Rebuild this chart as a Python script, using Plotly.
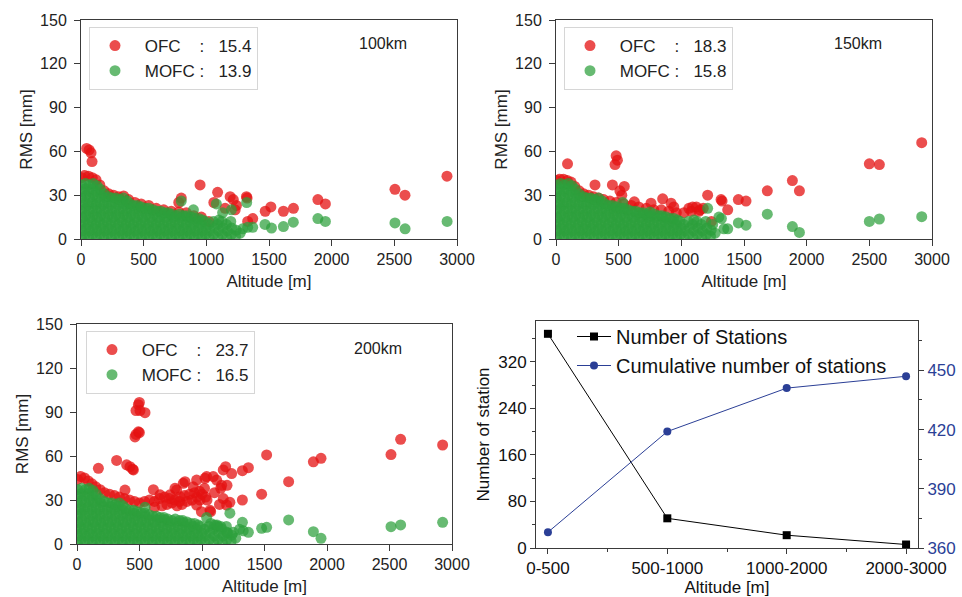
import plotly.graph_objects as go

# ---------------- data ----------------
# Shared low-altitude MOFC cluster (altitude [m], RMS [mm]) - one line per altitude band
cluster_alt = [
    4, 8, 2, 10, 6, 12, 3, 9, 5,
    33, 38, 30, 40, 36, 32, 39, 34, 37,
    63, 68, 60, 70, 66, 62, 69, 64, 67,
    93, 98, 90, 100, 96, 92, 99, 94, 97,
    123, 128, 120, 130, 126, 122, 129, 124, 127,
    153, 158, 150, 160, 156, 152, 159, 154,
    183, 188, 180, 190, 186, 182, 189, 184,
    213, 218, 210, 220, 216, 212, 219,
    243, 248, 240, 250, 246, 242, 249,
    273, 278, 270, 280, 276, 272, 279,
    303, 308, 300, 310, 306, 302, 309,
    333, 338, 330, 340, 336, 332, 339,
    363, 368, 360, 370, 366, 362, 369,
    393, 398, 390, 400, 396, 392,
    423, 428, 420, 430, 426, 422,
    453, 458, 450, 460, 456, 452,
    483, 488, 480, 490, 486, 482,
    513, 518, 510, 520, 516,
    543, 548, 540, 550, 546, 542,
    573, 578, 570, 580, 576,
    603, 608, 600, 610, 606,
    633, 638, 630, 640, 636,
    663, 668, 660, 670, 666,
    693, 698, 690, 700, 696,
    723, 728, 720, 730, 726,
    753, 758, 750, 760,
    783, 788, 780, 790, 786,
    813, 818, 810, 820,
    843, 848, 840, 850, 846,
    873, 878, 870, 880,
    903, 908, 900, 910,
    933, 938, 930, 940,
    963, 968, 960, 970,
    993, 998, 990,
    1023, 1028, 1020,
    1058, 1063, 1055,
    1093, 1098, 1090, 1100,
    1128, 1133, 1125,
    1163, 1168, 1160,
    1198, 1203, 1195,
    1233, 1238,
    1270,
]
cluster_mofc = [
    1, 5.5, 10, 14.5, 19, 23.5, 28, 32.5, 37,
    3, 7.5, 12, 16.5, 21, 25.5, 30, 34.5, 38,
    1, 5.5, 10, 14.5, 19, 23.5, 28, 32.5, 37,
    3, 7.5, 12, 16.5, 21, 25.5, 30, 34.5, 38,
    1, 5.5, 10, 14.5, 19, 23.5, 28, 32.5, 36.5,
    3, 7.5, 12, 16.5, 21, 25.5, 30, 34,
    1, 5.5, 10, 14.5, 19, 23.5, 28, 31,
    3, 7.5, 12, 16.5, 21, 25.5, 29,
    1, 5.5, 10, 14.5, 19, 23.5, 28,
    3, 7.5, 12, 16.5, 21, 25.5, 28,
    1, 5.5, 10, 14.5, 19, 23.5, 27,
    3, 7.5, 12, 16.5, 21, 25.5, 28,
    1, 5.5, 10, 14.5, 19, 23.5, 26,
    3, 7.5, 12, 16.5, 21, 24,
    1, 5.5, 10, 14.5, 19, 23,
    3, 7.5, 12, 16.5, 21, 23,
    1, 5.5, 10, 14.5, 19, 22,
    3, 7.5, 12, 16.5, 21,
    1, 5.5, 10, 14.5, 19, 21,
    3, 7.5, 12, 16.5, 20,
    1, 5.5, 10, 14.5, 19,
    3, 7.5, 12, 16.5, 19,
    1, 5.5, 10, 14.5, 18,
    3, 7.5, 12, 16.5, 18,
    1, 5.5, 10, 14.5, 17,
    3, 7.5, 12, 16,
    1, 5.5, 10, 14.5, 17,
    3, 7.5, 12, 16,
    1, 5.5, 10, 14.5, 16,
    3, 7.5, 12, 15,
    1, 5.5, 10, 14,
    3, 7.5, 12, 14,
    1, 5.5, 10, 13,
    3, 7.5, 12,
    1, 5.5, 10,
    3, 7.5, 12,
    1, 5.5, 10, 13,
    3, 7.5, 12,
    1, 5.5, 10,
    3, 7.5, 12,
    2, 6,
    4,
]

# 100 km
ofc_alt_100 = [5, 30, 60, 90, 120, 150, 185, 220, 260, 300, 340, 380, 430, 480, 540, 600,
               660, 720, 780, 840, 900, 960, 1020,
               45, 65, 80, 88, 780, 800, 950, 1060, 1090, 1150, 1190, 1215, 1230, 1240,
               1320, 1325, 1330, 1370, 1470, 1515, 1615, 1695, 1890, 1950, 2505, 2585, 2920]
ofc_rms_100 = [42, 43.5, 43, 42, 40.5, 37, 33, 31, 30, 29, 29.5, 27, 25, 24, 23, 21,
               20, 19, 18.5, 18, 16, 15, 12,
               62, 61, 59, 53, 25, 28, 37, 25, 32, 21, 29, 27, 20, 23,
               29, 28, 12, 14, 19, 22, 19, 21, 27, 24, 34, 30, 43]
mofc_alt_100 = [800, 897, 1080, 1130, 1200, 1322, 1330, 1290, 1370, 1468, 1520, 1615, 1694,
                1890, 1950, 2505, 2586, 2921]
mofc_rms_100 = [26, 20, 24, 18, 20, 25, 8, 7, 8, 10, 7.5, 8.5, 11.5,
                14, 12, 11, 7, 12]

# 150 km
ofc_alt_150 = [5, 30, 60, 90, 120, 150, 185, 220, 260, 300, 340, 380, 430, 480, 540, 600,
               660, 720, 780, 840, 900, 960, 1020, 1080, 1140,
               92, 311, 450, 471, 480, 490, 510, 525, 545, 625, 758, 851, 918, 940,
               1060, 1090, 1120, 1150, 1175, 1210, 1240, 1317, 1325, 1370, 1455, 1516,
               1686, 1886, 1942, 2500, 2580, 2918]
ofc_rms_150 = [40, 41, 41, 40, 39, 36, 33, 31, 30, 29, 28, 27, 26, 25, 24, 23,
               22, 21, 20, 20, 19, 18, 18, 19, 19,
               51.5, 37, 37, 51, 57, 54, 33, 30, 36, 25.5, 24.5, 27.5, 24.5, 22,
               21, 22, 22, 20, 21, 30, 12, 27, 26, 20, 27, 26,
               33, 40, 33, 51.5, 51, 66]
mofc_alt_150 = [532, 750, 1210, 1250, 1300, 1320, 1340, 1370, 1455, 1516, 1686, 1886, 1942,
                2500, 2580, 2918]
mofc_rms_150 = [25, 18.5, 21, 10, 15, 14, 7, 7, 11, 9.5, 17, 8.5, 4.5,
                12, 13.7, 15.3]

# 200 km
ofc_alt_200 = [5, 30, 60, 90, 120, 150, 185, 220, 260, 300, 340, 380, 420, 460, 500, 540,
               580, 620, 660, 700, 740, 780, 820, 860, 900, 940, 980, 1020,
               620, 680, 720, 760, 800, 840, 880, 920, 960, 1000, 1040, 1100, 1150, 1200,
               171, 317, 384, 397, 424, 445, 451, 464, 472, 491, 499, 472, 491, 499, 504,
               544, 611, 664, 744, 784, 797, 824, 850, 864, 930, 957, 957, 984, 995, 1024,
               1029, 1037, 1064, 1069, 1090, 1117, 1140, 1157, 1170, 1170, 1189, 1197, 1223,
               1237, 1323, 1323, 1371, 1477, 1517, 1693, 1891, 1952, 2512, 2589, 2925]
ofc_rms_200 = [44, 46, 45, 43, 41, 39, 37, 35, 34, 33, 32, 31, 30, 29, 28, 29,
               30, 29, 31, 32, 31, 30, 29, 33, 34, 35, 36, 38,
               25, 26, 27, 28, 26, 27, 29, 30, 32, 34, 30, 35, 38, 40,
               51.6, 57, 36.8, 54, 52.7, 51, 50.5, 73, 74.7, 76.5, 76, 91, 95, 96.5, 91,
               89.5, 37, 33.5, 33.5, 38, 36.8, 32.3, 41.4, 42.5, 39, 43.6, 26.6, 30, 22, 44.8,
               32, 46, 23, 22, 46, 43.6, 27, 40, 50.5, 31, 52.7, 26.6, 28.4,
               48, 30, 50, 52, 34, 60.7, 42.5, 56, 58.4, 61, 71.4, 67.5]
mofc_alt_200 = [544, 1037, 1070, 1120, 1150, 1200, 1223, 1250, 1300, 1323, 1330, 1371, 1477,
                1517, 1693, 1891, 1952, 2512, 2589, 2925]
mofc_rms_200 = [25, 18, 14, 13, 12, 8, 21, 8, 10, 14.8, 9, 8, 10.7,
                11.4, 16.4, 8.4, 3.9, 11.8, 13, 14.8]

panel_labels = ["100km", "150km", "200km"]
ofc_means = ["15.4", "18.3", "23.7"]
mofc_means = ["13.9", "15.8", "16.5"]

# station counts
alt_classes = ["0-500", "500-1000", "1000-2000", "2000-3000"]
n_stations = [368, 51, 22, 6]
cum_stations = [368, 419, 441, 447]

# ---------------- style ----------------
FONT = "Liberation Sans, Arial, Helvetica, sans-serif"
RED = "rgb(228,18,18)"
GREEN = "rgb(44,160,60)"
BLUE = "#2b3f96"
AX = "#3a3a3a"
W, H = 962, 597


def px_x(v):
    return v / W


def px_y(v):
    return 1 - v / H


fig = go.Figure()

panels = [
    dict(xa="x", ya="y", leg="legend", xd=[81, 457], yd=[20, 239],
         oa=ofc_alt_100, orr=ofc_rms_100, ma=mofc_alt_100, mr=mofc_rms_100,
         lab=(383, 43), legpos=(89, 27)),
    dict(xa="x2", ya="y2", leg="legend2", xd=[556, 932], yd=[20, 239],
         oa=ofc_alt_150, orr=ofc_rms_150, ma=mofc_alt_150, mr=mofc_rms_150,
         lab=(858, 43), legpos=(564, 27)),
    dict(xa="x3", ya="y3", leg="legend3", xd=[77, 452], yd=[324, 544],
         oa=ofc_alt_200, orr=ofc_rms_200, ma=mofc_alt_200, mr=mofc_rms_200,
         lab=(378, 348), legpos=(86, 331)),
]

layout = dict(
    width=W, height=H, margin=dict(l=0, r=0, t=0, b=0),
    paper_bgcolor="white", plot_bgcolor="white", template="none",
    font=dict(family=FONT, color="#222"), showlegend=True,
)

nb = "\u00a0"
annotations = []
for i, p in enumerate(panels):
    fig.add_trace(go.Scatter(
        x=p["oa"], y=p["orr"], mode="markers", xaxis=p["xa"], yaxis=p["ya"],
        name=nb + "OFC" + nb * 4 + ":" + nb * 3 + ofc_means[i], legend=p["leg"],
        marker=dict(color=RED, size=11, opacity=0.75, line=dict(width=0)),
    ))
    fig.add_trace(go.Scatter(
        x=cluster_alt + p["ma"], y=cluster_mofc + p["mr"], mode="markers",
        xaxis=p["xa"], yaxis=p["ya"],
        name=nb + "MOFC" + nb + ":" + nb * 3 + mofc_means[i], legend=p["leg"],
        marker=dict(color=GREEN, size=11, opacity=0.72, line=dict(width=0)),
    ))
    suffix = "" if i == 0 else str(i + 1)
    common = dict(showline=True, linecolor=AX, linewidth=1, mirror=True,
                  ticks="outside", ticklen=6, tickwidth=1, tickcolor=AX,
                  showgrid=False, zeroline=False, automargin=False,
                  tickfont=dict(size=16, color="#222"))
    layout["xaxis" + suffix] = dict(
        common, domain=[px_x(p["xd"][0]), px_x(p["xd"][1])], range=[0, 3000],
        dtick=500, anchor=p["ya"], ticklabelstandoff=0,
        title=dict(text="Altitude [m]", font=dict(size=17), standoff=7))
    layout["yaxis" + suffix] = dict(
        common, domain=[px_y(p["yd"][1]), px_y(p["yd"][0])], range=[0, 150],
        dtick=30, anchor=p["xa"], ticklabelstandoff=4,
        title=dict(text="RMS [mm]", font=dict(size=17), standoff=3))
    layout[p["leg"]] = dict(
        x=px_x(p["legpos"][0]), y=px_y(p["legpos"][1]), xanchor="left", yanchor="top",
        bgcolor="white", bordercolor="#d6d6d6", borderwidth=1,
        font=dict(size=17, color="#222"), itemwidth=40, tracegroupgap=0)
    annotations.append(dict(
        text=panel_labels[i], x=px_x(p["lab"][0]), y=px_y(p["lab"][1]),
        xanchor="center", yanchor="middle",
        xref="paper", yref="paper", showarrow=False, font=dict(size=16, color="#222")))

# ---- panel 4 ----
cat_idx = list(range(len(alt_classes)))
fig.add_trace(go.Scatter(
    x=cat_idx, y=n_stations, mode="lines+markers", xaxis="x4", yaxis="y4",
    name="Number of Stations", legend="legend4",
    line=dict(color="black", width=1), marker=dict(symbol="square", size=8, color="black"),
))
fig.add_trace(go.Scatter(
    x=cat_idx, y=cum_stations, mode="lines+markers", xaxis="x4", yaxis="y5",
    name="Cumulative number of stations", legend="legend4",
    line=dict(color=BLUE, width=1), marker=dict(symbol="circle", size=8, color=BLUE),
))
ax4 = dict(showline=True, linecolor=AX, linewidth=1, ticks="outside", ticklen=5,
           tickwidth=1, tickcolor=AX, showgrid=False, zeroline=False, automargin=False)
layout["xaxis4"] = dict(
    ax4, domain=[px_x(536), px_x(918)], range=[-0.1, 3.1], anchor="y4", mirror=True,
    tickvals=cat_idx, ticktext=alt_classes, tickfont=dict(size=17, color="#111"),
    minor=dict(dtick=0.5, tick0=0, ticks="outside", ticklen=3, tickcolor=AX),
    title=dict(text="Altitude [m]", font=dict(size=17, color="#111"), standoff=2))
layout["yaxis4"] = dict(
    ax4, domain=[px_y(548), px_y(321)], range=[0, 390], anchor="x4",
    tickvals=[0, 80, 160, 240, 320], tickfont=dict(size=17, color="#111"),
    minor=dict(dtick=40, ticks="outside", ticklen=3, tickcolor=AX),
    title=dict(text="Number of station", font=dict(size=17, color="#111"), standoff=4))
layout["yaxis5"] = dict(
    ax4, overlaying="y4", side="right", anchor="x4", range=[360, 475],
    tickvals=[360, 390, 420, 450], tickfont=dict(size=17, color=BLUE),
    minor=dict(dtick=15, tick0=360, ticks="outside", ticklen=3, tickcolor=AX))
layout["legend4"] = dict(
    x=px_x(572), y=px_y(317), xanchor="left", yanchor="top", bgcolor="rgba(0,0,0,0)",
    borderwidth=0, font=dict(size=20, color="#111"), itemwidth=34, tracegroupgap=0)

layout["annotations"] = annotations
fig.update_layout(**layout)
fig.write_html("out.html")
